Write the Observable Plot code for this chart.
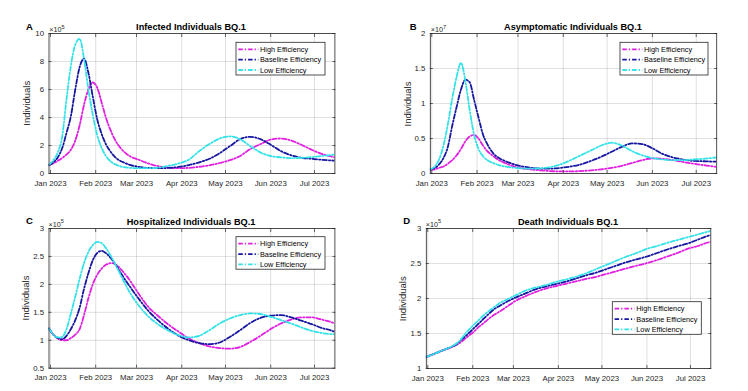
<!DOCTYPE html>
<html>
<head>
<meta charset="utf-8">
<script src="https://cdn.jsdelivr.net/npm/d3@7"></script>
<script src="https://cdn.jsdelivr.net/npm/@observablehq/plot@0.6"></script>
<style>
  body { margin: 0; background: #fff; }
  #root { position: relative; width: 748px; height: 391px; background: #fff; overflow: hidden;
          font-family: "Liberation Sans", Arial, Helvetica, sans-serif; }
  .panel { position: absolute; }
  #overlay { position: absolute; left: 0; top: 0; pointer-events: none; }
</style>
</head>
<body>
<div id="root"></div>
<script>
// ---------- shared ----------
const dates = ["2022-12-31","2023-01-03","2023-01-06","2023-01-09","2023-01-12","2023-01-15","2023-01-18","2023-01-21","2023-01-24","2023-01-27","2023-01-30","2023-02-02","2023-02-05","2023-02-08","2023-02-12","2023-02-16","2023-02-20","2023-02-25","2023-03-02","2023-03-09","2023-03-16","2023-03-23","2023-03-30","2023-04-06","2023-04-13","2023-04-20","2023-04-27","2023-05-04","2023-05-11","2023-05-18","2023-05-25","2023-06-01","2023-06-08","2023-06-15","2023-06-22","2023-06-29","2023-07-06","2023-07-13","2023-07-15"];
const seriesNames = ["High Efficiency", "Baseline Efficiency", "Low Efficiency"];
const seriesColors = ["#e01fe0", "#1616a0", "#33e2e8"];
const monthTicks = ["2023-01-01","2023-02-01","2023-03-01","2023-04-01","2023-05-01","2023-06-01","2023-07-01"];
const monthLabels = ["Jan 2023","Feb 2023","Mar 2023","Apr 2023","May 2023","Jun 2023","Jul 2023"];
const xDomain = ["2022-12-31", "2023-07-15"];

// ---------- A: Infected (x10^5) ----------
const infectedHigh = [0.6,0.72,0.9,1.1,1.35,1.7,2.35,3.45,4.9,6.0,6.5,6.15,5.1,4.0,2.9,2.1,1.6,1.2,1.0,0.72,0.52,0.42,0.38,0.4,0.48,0.58,0.75,0.95,1.25,1.75,2.1,2.42,2.5,2.35,2.05,1.7,1.4,1.2,1.15];
const infectedBase = [0.6,0.8,1.15,1.8,2.9,4.1,6.0,7.6,8.2,7.2,5.5,3.9,2.85,2.1,1.45,1.02,0.8,0.6,0.48,0.4,0.38,0.4,0.47,0.6,0.8,1.05,1.45,1.95,2.45,2.62,2.45,2.05,1.6,1.3,1.12,1.05,0.98,0.93,0.92];
const infectedLow  = [0.62,0.95,1.5,2.6,5.3,7.7,9.2,9.62,8.2,6.0,4.2,2.75,1.85,1.25,0.8,0.58,0.46,0.4,0.38,0.38,0.42,0.55,0.72,1.0,1.6,2.1,2.5,2.65,2.45,1.95,1.5,1.25,1.15,1.1,1.12,1.17,1.25,1.33,1.36];
const infectedTicks = [0, 2, 4, 6, 8, 10];

// ---------- B: Asymptomatic (x10^7) ----------
const asymHigh = [0.05,0.06,0.08,0.1,0.14,0.19,0.26,0.35,0.46,0.53,0.55,0.5,0.4,0.32,0.25,0.19,0.15,0.11,0.08,0.06,0.045,0.035,0.03,0.03,0.035,0.045,0.06,0.08,0.11,0.15,0.19,0.215,0.21,0.19,0.165,0.14,0.12,0.1,0.095];
const asymBase = [0.06,0.08,0.13,0.22,0.38,0.68,0.95,1.2,1.34,1.3,1.05,0.8,0.56,0.42,0.29,0.22,0.18,0.14,0.11,0.085,0.07,0.07,0.08,0.1,0.13,0.18,0.24,0.31,0.38,0.43,0.42,0.36,0.28,0.23,0.2,0.18,0.175,0.17,0.17];
const asymLow  = [0.06,0.1,0.2,0.4,0.7,1.07,1.38,1.58,1.32,0.9,0.55,0.35,0.25,0.19,0.15,0.12,0.1,0.085,0.075,0.07,0.075,0.09,0.13,0.19,0.26,0.33,0.4,0.44,0.4,0.32,0.26,0.22,0.2,0.19,0.19,0.2,0.21,0.225,0.23];
const asymTicks = [0, 0.5, 1, 1.5, 2];

// ---------- C: Hospitalized (x10^5) ----------
const hospHigh = [1.21,1.1,1.03,1.0,1.0,1.04,1.1,1.2,1.45,1.75,2.0,2.17,2.28,2.35,2.38,2.33,2.22,2.05,1.85,1.6,1.43,1.28,1.15,1.03,0.95,0.89,0.86,0.85,0.88,0.97,1.08,1.2,1.3,1.37,1.41,1.41,1.37,1.32,1.3];
const hospBase = [1.21,1.1,1.04,1.02,1.08,1.2,1.36,1.58,1.92,2.2,2.43,2.56,2.6,2.56,2.45,2.3,2.13,1.94,1.76,1.53,1.35,1.2,1.08,1.0,0.95,0.93,0.96,1.06,1.18,1.31,1.4,1.44,1.45,1.41,1.35,1.29,1.22,1.17,1.15];
const hospLow  = [1.21,1.1,1.05,1.06,1.2,1.48,1.78,2.1,2.38,2.58,2.7,2.76,2.74,2.65,2.48,2.28,2.07,1.83,1.64,1.43,1.28,1.17,1.09,1.05,1.08,1.18,1.3,1.39,1.45,1.48,1.47,1.42,1.36,1.3,1.23,1.17,1.13,1.11,1.11];
const hospTicks = [0.5, 1, 1.5, 2, 2.5, 3];

// ---------- D: Death (x10^5) ----------
const deathHigh = [1.165,1.19,1.215,1.24,1.265,1.285,1.31,1.34,1.38,1.43,1.48,1.53,1.59,1.64,1.71,1.77,1.82,1.89,1.96,2.03,2.09,2.14,2.175,2.21,2.245,2.28,2.31,2.35,2.39,2.43,2.47,2.505,2.55,2.6,2.65,2.71,2.75,2.8,2.81];
const deathBase = [1.165,1.19,1.215,1.24,1.265,1.29,1.315,1.35,1.41,1.46,1.52,1.58,1.64,1.7,1.78,1.85,1.9,1.96,2.01,2.07,2.13,2.17,2.205,2.24,2.285,2.33,2.37,2.42,2.47,2.52,2.56,2.6,2.65,2.7,2.745,2.785,2.84,2.895,2.905];
const deathLow  = [1.165,1.19,1.215,1.24,1.265,1.29,1.32,1.36,1.42,1.5,1.57,1.63,1.69,1.75,1.82,1.88,1.94,1.99,2.04,2.11,2.155,2.19,2.235,2.27,2.31,2.36,2.42,2.48,2.54,2.6,2.65,2.71,2.75,2.795,2.835,2.875,2.915,2.955,2.965];
const deathTicks = [1, 1.5, 2, 2.5, 3];

// ---------- panel layout ----------
const panels = [
  { letter: "A", title: "Infected Individuals BQ.1", exp: "5", series: [infectedHigh, infectedBase, infectedLow], yTicks: infectedTicks,
    left: 0, top: 0, w: 374, h: 195, mL: 48.5, mR: 39.6, mT: 33, mB: 22,
    letterPos: [26, 30], titleX: 191, titleY: 29.5, expPos: [49.3, 32.3], ylab: [30.3, 103.3], legend: [236, 42.3, 89, 32.7] },
  { letter: "B", title: "Asymptomatic Individuals BQ.1", exp: "7", series: [asymHigh, asymBase, asymLow], yTicks: asymTicks,
    left: 374, top: 0, w: 374, h: 195, mL: 55.8, mR: 31.8, mT: 33, mB: 22,
    letterPos: [409.7, 29.5], titleX: 573, titleY: 29.5, expPos: [430.7, 32.3], ylab: [411, 104], legend: [620, 42.3, 88, 32.7] },
  { letter: "C", title: "Hospitalized Individuals BQ.1", exp: "5", series: [hospHigh, hospBase, hospLow], yTicks: hospTicks,
    left: 0, top: 195, w: 374, h: 196, mL: 48.5, mR: 39.6, mT: 33, mB: 23.3,
    letterPos: [26, 223.5], titleX: 191, titleY: 224.5, expPos: [48.5, 226.5], ylab: [29.2, 298], legend: [236, 236.7, 89, 32.5] },
  { letter: "D", title: "Death Individuals BQ.1", exp: "5", series: [deathHigh, deathBase, deathLow], yTicks: deathTicks,
    left: 374, top: 195, w: 374, h: 196, mL: 51.8, mR: 37.7, mT: 33, mB: 23,
    letterPos: [403.3, 224], titleX: 568, titleY: 224.5, expPos: [425.7, 226.5], ylab: [405.5, 298.8], legend: [612.3, 301.7, 89, 32.6] }
];

const FONT = '"Liberation Sans", Arial, Helvetica, sans-serif';
const AXIS = "#262626";
const DASH = "4.5,2,1.3,2";
const LW = 1.8;
const labelByTime = new Map(monthTicks.map((d, i) => [+new Date(d), monthLabels[i]]));
const root = document.getElementById("root");

for (const p of panels) {
  const rows = [];
  p.series.forEach((vals, si) => vals.forEach((v, i) => rows.push({ date: new Date(dates[i]), value: v, series: seriesNames[si] })));
  const xTicks = monthTicks.map(d => new Date(d));
  const yDomain = [p.yTicks[0], p.yTicks[p.yTicks.length - 1]];
  const chart = Plot.plot({
    width: p.w, height: p.h,
    marginLeft: p.mL, marginRight: p.mR, marginTop: p.mT, marginBottom: p.mB,
    style: { fontFamily: FONT, fontSize: "7.8px", color: AXIS, background: "transparent", overflow: "visible" },
    x: { type: "utc", domain: xDomain.map(d => new Date(d)) },
    y: { domain: yDomain },
    color: { domain: seriesNames, range: seriesColors },
    marks: [
      Plot.gridX(xTicks, { stroke: AXIS, strokeOpacity: 0.14 }),
      Plot.gridY(p.yTicks, { stroke: AXIS, strokeOpacity: 0.14 }),
      Plot.line(rows, { x: "date", y: "value", z: "series", stroke: "series", strokeWidth: LW,
                        strokeDasharray: DASH, curve: "monotone-x", clip: true }),
      Plot.frame({ stroke: AXIS, strokeWidth: 0.8 }),
      Plot.axisX(xTicks, { anchor: "bottom", tickSize: -3, tickPadding: 9.5, tickFormat: d => labelByTime.get(+d), label: null, stroke: AXIS, strokeWidth: 0.7 }),
      Plot.axisX(xTicks, { anchor: "top", tickSize: -3, tickFormat: () => "", label: null, stroke: AXIS, strokeWidth: 0.7 }),
      Plot.axisY(p.yTicks, { anchor: "left", tickSize: -3, tickPadding: 8, tickFormat: d => String(d), label: null, stroke: AXIS, strokeWidth: 0.7 }),
      Plot.axisY(p.yTicks, { anchor: "right", tickSize: -3, tickFormat: () => "", label: null, stroke: AXIS, strokeWidth: 0.7 })
    ]
  });
  chart.classList.add("panel");
  chart.style.left = p.left + "px";
  chart.style.top = p.top + "px";
  root.appendChild(chart);
}

// ---------- overlay: letters, titles, exponents, y labels, legends ----------
const svg = d3.select(root).append("svg").attr("id", "overlay")
  .attr("width", 748).attr("height", 391).style("font-family", FONT);

for (const p of panels) {
  svg.append("text").attr("x", p.letterPos[0]).attr("y", p.letterPos[1])
    .attr("font-size", 9.5).attr("font-weight", "bold").attr("fill", "#000").text(p.letter);
  svg.append("text").attr("x", p.titleX).attr("y", p.titleY).attr("text-anchor", "middle")
    .attr("font-size", 9.2).attr("font-weight", "bold").attr("fill", "#000").text(p.title);
  const ex = svg.append("text").attr("x", p.expPos[0]).attr("y", p.expPos[1]).attr("font-size", 7.2).attr("fill", AXIS);
  ex.append("tspan").text("\u00d710");
  ex.append("tspan").attr("dy", -3.6).attr("font-size", 5.6).text(p.exp);
  svg.append("text").attr("transform", `translate(${p.ylab[0]},${p.ylab[1]}) rotate(-90)`)
    .attr("text-anchor", "middle").attr("font-size", 9.5).attr("fill", AXIS).text("Individuals");

  const [lx, ly, lw, lh] = p.legend;
  const g = svg.append("g");
  g.append("rect").attr("x", lx).attr("y", ly).attr("width", lw).attr("height", lh)
    .attr("fill", "#fff").attr("stroke", AXIS).attr("stroke-width", 0.8);
  seriesNames.forEach((name, i) => {
    const cy = ly + 7 + i * 10.35;
    g.append("line").attr("x1", lx + 2.3).attr("x2", lx + 22.3).attr("y1", cy).attr("y2", cy)
      .attr("stroke", seriesColors[i]).attr("stroke-width", LW).attr("stroke-dasharray", DASH);
    g.append("text").attr("x", lx + 24).attr("y", cy).attr("dy", "0.35em")
      .attr("font-size", 7.3).attr("fill", "#000").text(name);
  });
}
</script>
</body>
</html>
